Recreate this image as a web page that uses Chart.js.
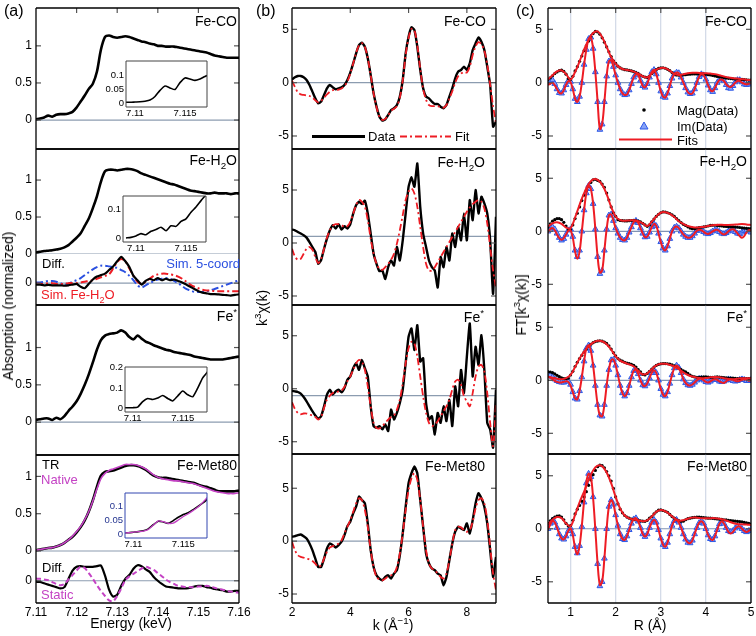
<!DOCTYPE html>
<html>
<head>
<meta charset="utf-8">
<script src="https://cdn.jsdelivr.net/npm/chart.js@4.4.0/dist/chart.umd.min.js"></script>
<style>
body { margin: 0; background: #fff; }
#fig { position: relative; width: 756px; height: 636px; overflow: hidden; font-family: 'Liberation Sans', Arial, sans-serif; color: #000; }
#fig canvas { position: absolute; }
.t { position: absolute; white-space: nowrap; font-size: 13px; line-height: 1; z-index: 5; }
.n { font-size: 14px; }
.c { transform: translate(-50%, -50%); font-size: 14px; }
.v { transform: translate(-50%, -50%) rotate(-90deg); font-size: 14px; }
.t sub, .t sup { font-size: 70%; line-height: 0; }
svg { position: absolute; left: 0; top: 0; z-index: 5; }
</style>
</head>
<body>
<div id="fig">
  <div class="t" style="left:4px;top:3px;font-size:16px">(a)</div>
  <div class="t" style="left:256px;top:3px;font-size:16px">(b)</div>
  <div class="t" style="left:516px;top:3px;font-size:16px">(c)</div>

  <div class="t n" style="right:519px;top:14px">Fe-CO</div>
  <div class="t n" style="right:270px;top:14px">Fe-CO</div>
  <div class="t n" style="right:9px;top:14px">Fe-CO</div>
  <div class="t n" style="right:519px;top:153px">Fe-H<sub>2</sub>O</div>
  <div class="t n" style="right:271px;top:155px">Fe-H<sub>2</sub>O</div>
  <div class="t n" style="right:9px;top:154px">Fe-H<sub>2</sub>O</div>
  <div class="t n" style="right:519px;top:309px">Fe<sup>*</sup></div>
  <div class="t n" style="right:272px;top:310px">Fe<sup>*</sup></div>
  <div class="t n" style="right:9px;top:310px">Fe<sup>*</sup></div>
  <div class="t n" style="right:519px;top:458px">Fe-Met80</div>
  <div class="t n" style="right:271px;top:459px">Fe-Met80</div>
  <div class="t n" style="right:9px;top:459px">Fe-Met80</div>

  <div class="t" style="left:42px;top:257px">Diff.</div>
  <div class="t" style="right:516px;top:257px;color:#2b50e0">Sim. 5-coord</div>
  <div class="t" style="left:41px;top:288px;color:#ee1c24">Sim. Fe-H<sub>2</sub>O</div>
  <div class="t" style="left:42px;top:458px">TR</div>
  <div class="t" style="left:41px;top:473px;color:#c442c4">Native</div>
  <div class="t" style="left:42px;top:561px">Diff.</div>
  <div class="t" style="left:41px;top:588px;color:#c442c4">Static</div>

  <div class="t" style="left:368px;top:130px">Data</div>
  <div class="t" style="left:455px;top:130px">Fit</div>
  <div class="t" style="left:677px;top:104px">Mag(Data)</div>
  <div class="t" style="left:677px;top:120px">Im(Data)</div>
  <div class="t" style="left:677px;top:134px">Fits</div>

  <div class="t v" style="left:8px;top:306px">Absorption (normalized)</div>
  <div class="t v" style="left:262px;top:308px">k<sup>3</sup>χ(k)</div>
  <div class="t v" style="left:521px;top:305px">FT[k<sup>3</sup>χ(k)]</div>
  <div class="t c" style="left:131px;top:623px">Energy (keV)</div>
  <div class="t c" style="left:393px;top:625px">k (Å<sup>−1</sup>)</div>
  <div class="t c" style="left:650px;top:625px">R (Å)</div>

  <svg width="756" height="636">
    <line x1="312" y1="136.5" x2="365" y2="136.5" stroke="#000" stroke-width="3"/>
    <line x1="400" y1="136.5" x2="451" y2="136.5" stroke="#ee1c24" stroke-width="2" stroke-dasharray="7,3,2,3"/>
    <circle cx="644" cy="110" r="1.8" fill="#000"/>
    <polygon points="644,122 648,129 640,129" fill="#86a2f7" stroke="#2d58e6" stroke-width="1"/>
    <line x1="619" y1="139.5" x2="672" y2="139.5" stroke="#ee1c24" stroke-width="2"/>
  </svg>
</div>
<script>
// ---------- grids & ticks ----------
const energy = Array.from({ length: 51 }, (_, i) => +(7.11 + i * 0.001).toFixed(3));
const insetEnergy = Array.from({ length: 18 }, (_, i) => +(7.109 + i * 0.0005).toFixed(4));
const kGrid = Array.from({ length: 71 }, (_, i) => +(2 + i * 0.1).toFixed(1));
const rGrid = Array.from({ length: 91 }, (_, i) => +(0.5 + i * 0.05).toFixed(2));
const rFitGrid = Array.from({ length: 46 }, (_, i) => +(0.5 + i * 0.1).toFixed(1));

const eTicks = [7.11, 7.12, 7.13, 7.14, 7.15, 7.16];
const insetTicks = [7.11, 7.115];
const kTicks = [2, 4, 6, 8];
const rTicks = [1, 2, 3, 4, 5];
const absTicks = [0, 0.5, 1];
const chiTicks = [-5, 0, 5];

// ---------- (a) XANES ----------
const muCO = [0.01,0.02,0.035,0.06,0.045,0.07,0.08,0.08,0.09,0.11,
  0.17,0.25,0.33,0.42,0.49,0.65,0.95,1.12,1.14,1.12,
  1.11,1.12,1.13,1.12,1.1,1.08,1.06,1.05,1.03,1.02,
  1.0,1.0,0.99,0.99,0.99,0.98,0.97,0.96,0.95,0.94,
  0.93,0.92,0.91,0.89,0.87,0.86,0.85,0.84,0.84,0.84,0.84];
const muH2O = [0.02,0.03,0.04,0.045,0.05,0.06,0.07,0.09,0.12,0.17,
  0.22,0.28,0.38,0.48,0.62,0.78,0.98,1.12,1.14,1.14,
  1.13,1.14,1.15,1.15,1.14,1.12,1.09,1.07,1.05,1.03,
  1.01,0.99,0.97,0.95,0.94,0.92,0.9,0.88,0.86,0.85,
  0.84,0.83,0.82,0.82,0.83,0.82,0.82,0.82,0.81,0.82,0.82];
const diffH2O = [-0.02,-0.02,-0.03,-0.025,-0.03,-0.03,-0.03,-0.035,-0.03,-0.02,
  -0.01,-0.05,-0.07,-0.01,0.05,0.09,0.11,0.13,0.18,0.23,
  0.3,0.36,0.3,0.22,0.1,0.04,-0.02,0.03,0.06,0.04,
  0.07,0.04,0.06,0.04,0.05,0.03,0.01,-0.02,-0.05,-0.08,
  -0.11,-0.13,-0.14,-0.15,-0.15,-0.155,-0.16,-0.165,-0.17,-0.16,-0.155];
const simFeH2O = [-0.01,-0.01,-0.01,0.0,0.0,-0.01,-0.01,-0.01,0.0,0.0,
  0.0,0.01,0.02,0.03,0.04,0.06,0.08,0.1,0.12,0.2,
  0.29,0.33,0.3,0.2,0.1,0.02,-0.01,0.02,0.06,0.1,
  0.12,0.13,0.13,0.12,0.11,0.09,0.06,0.02,-0.02,-0.05,
  -0.07,-0.09,-0.1,-0.1,-0.11,-0.11,-0.11,-0.11,-0.11,-0.11,-0.11];
const sim5coord = [0.01,0.01,0.02,0.03,0.03,0.02,0.0,-0.02,-0.01,0.02,
  0.04,0.07,0.11,0.15,0.19,0.22,0.24,0.24,0.23,0.22,
  0.21,0.18,0.15,0.1,0.04,-0.03,-0.06,-0.03,0.0,0.03,
  0.05,0.06,0.07,0.06,0.03,0.0,-0.04,-0.08,-0.1,-0.12,
  -0.12,-0.12,-0.11,-0.1,-0.08,-0.06,-0.04,-0.02,0.0,0.02,0.04];
const muStar = [0.03,0.04,0.05,0.05,0.03,0.06,0.04,0.08,0.15,0.21,
  0.28,0.38,0.5,0.64,0.8,0.97,1.1,1.16,1.18,1.19,
  1.2,1.23,1.2,1.14,1.11,1.16,1.12,1.08,1.06,1.03,
  1.01,0.99,0.97,0.96,0.94,0.93,0.92,0.91,0.9,0.88,
  0.87,0.86,0.85,0.84,0.84,0.84,0.84,0.85,0.86,0.87,0.88];
const muMet = [0.01,0.02,0.03,0.04,0.045,0.06,0.08,0.11,0.15,0.19,
  0.25,0.32,0.41,0.53,0.68,0.86,1.01,1.06,1.07,1.08,
  1.1,1.12,1.14,1.15,1.15,1.14,1.12,1.09,1.05,1.01,
  0.99,0.98,0.98,0.97,0.96,0.95,0.94,0.93,0.92,0.91,
  0.89,0.87,0.86,0.84,0.82,0.8,0.8,0.8,0.8,0.8,0.81];
const muNative = [0.01,0.02,0.03,0.04,0.045,0.06,0.08,0.11,0.15,0.2,
  0.26,0.33,0.42,0.53,0.67,0.83,0.97,1.04,1.08,1.1,
  1.12,1.14,1.16,1.16,1.16,1.15,1.13,1.1,1.06,1.02,
  0.99,0.97,0.96,0.95,0.94,0.94,0.93,0.92,0.91,0.9,
  0.88,0.86,0.84,0.82,0.8,0.79,0.78,0.77,0.77,0.77,0.78];
const diffMet = [-0.015,-0.02,-0.04,-0.06,-0.08,-0.1,-0.12,-0.1,0.03,0.16,
  0.22,0.23,0.22,0.22,0.22,0.23,0.24,0.08,-0.14,-0.25,
  -0.22,-0.08,0.03,0.09,0.19,0.245,0.23,0.18,0.14,0.06,
  0.0,-0.05,-0.09,-0.1,-0.11,-0.12,-0.12,-0.12,-0.11,-0.09,
  -0.08,-0.08,-0.1,-0.11,-0.13,-0.14,-0.15,-0.17,-0.17,-0.16,-0.16];
const diffStatic = [0.035,0.03,0.02,0.01,-0.02,-0.05,-0.07,-0.05,0.02,0.09,
  0.16,0.22,0.2,0.12,0.03,-0.07,-0.16,-0.24,-0.31,-0.32,
  -0.24,-0.12,0.01,0.07,0.11,0.15,0.19,0.22,0.2,0.17,
  0.12,0.07,0.02,-0.02,-0.05,-0.08,-0.09,-0.1,-0.1,-0.1,
  -0.09,-0.09,-0.08,-0.09,-0.11,-0.13,-0.14,-0.16,-0.17,-0.18,-0.19];

// insets (pre-edge)
const preCO = [0.004,0.004,0.005,0.006,0.008,0.012,0.025,0.047,0.063,0.056,0.05,0.075,0.092,0.088,0.083,0.088,0.097,0.104];
const preH2O = [0.001,0.003,0.008,0.016,0.012,0.024,0.03,0.038,0.026,0.043,0.041,0.058,0.067,0.09,0.108,0.13,0.15,0.17];
const preStar = [0.005,0.005,0.005,0.008,0.035,0.05,0.045,0.052,0.064,0.05,0.038,0.062,0.086,0.068,0.058,0.1,0.15,0.18];
const preMet = [0.006,0.006,0.008,0.01,0.013,0.02,0.035,0.048,0.045,0.04,0.05,0.062,0.072,0.079,0.09,0.102,0.115,0.13];
const preNative = [0.006,0.006,0.008,0.01,0.012,0.018,0.033,0.049,0.046,0.04,0.041,0.052,0.065,0.075,0.087,0.1,0.118,0.138];

// ---------- (b) k^3 chi(k) ----------
const chiCO = [0.3,0.5,0.62,0.62,0.5,0.25,-0.22,-0.84,-1.47,-1.94,-1.78,-1.16,-0.53,-0.22,-0.44,-0.62,-0.53,-0.44,-0.22,0.25,
  0.94,1.81,2.75,3.53,3.75,3.37,2.28,0.72,-1.0,-2.25,
  -3.19,-3.56,-3.44,-3.03,-2.56,-2.4,-2.1,-1.31,0.25,2.75,
  4.31,5.19,4.94,3.37,1.19,-0.53,-1.31,-1.47,-1.78,-2.0,
  -2.0,-2.25,-2.4,-2.1,-1.31,-0.53,0.41,1.03,1.19,1.5,
  1.19,1.81,3.06,3.69,4.25,3.84,3.06,1.5,-0.22,-4.12,-3.66];
const fitCO = [0.2,-0.4,-0.9,-1.1,-1.15,-1.2,-1.25,-1.4,-1.65,-1.85,-1.7,-1.4,-1.1,-0.85,-0.7,-0.7,-0.65,-0.55,-0.3,0.1,
  0.85,1.8,2.8,3.5,3.7,3.35,2.3,0.7,-1.0,-2.3,
  -3.2,-3.5,-3.4,-3.05,-2.65,-2.45,-2.2,-1.4,0.2,2.6,
  4.2,5.05,4.9,3.5,1.3,-0.6,-1.6,-2.1,-2.2,-2.2,
  -2.2,-2.3,-2.35,-2.1,-1.5,-0.8,0.0,0.6,0.85,1.0,
  0.95,1.5,2.6,3.4,3.8,3.6,3.0,1.7,-0.2,-2.2,-3.8];
const chiH2O = [1.27,1.2,1.04,0.89,0.73,0.51,0.09,-0.38,-0.85,-1.95,-1.6,-0.54,0.41,1.2,1.68,1.36,1.77,1.27,1.58,1.36,
  1.77,2.78,3.57,3.89,3.67,3.99,2.78,0.89,-1.01,-1.96,
  -2.66,-2.59,-3.39,-2.28,-1.65,-2.12,-0.38,-1.65,0.25,2.78,
  5.3,6.2,5.3,7.5,3.4,0.89,-0.38,-1.65,-2.28,-2.6,
  -4.2,-1.33,-2.28,-0.38,-1.65,0.89,-0.38,1.52,0.25,2.78,
  0.25,4.05,2.15,5.0,2.78,4.37,3.73,2.78,0.25,-4.8,2.47];
const fitH2O = [-0.54,-1.27,-1.58,-1.49,-1.01,-0.54,-0.38,-0.63,-1.33,-1.9,-1.49,-0.54,0.51,1.2,1.65,1.77,1.77,1.68,1.52,1.58,
  1.99,2.78,3.57,4.05,3.89,3.42,2.15,0.41,-1.01,-1.96,
  -2.44,-2.53,-2.28,-1.96,-1.58,-1.01,-0.06,1.2,2.63,4.05,
  4.84,5.16,4.68,3.42,1.52,-0.38,-1.96,-2.59,-2.59,-2.28,
  -1.8,-1.33,-0.85,-0.38,0.09,0.57,1.04,1.52,1.99,2.47,
  2.94,3.35,3.67,3.89,4.05,3.89,3.26,1.84,-0.38,-2.59,-4.18];
const chiStar = [-0.19,-0.25,-0.31,-0.47,-0.78,-1.19,-1.66,-2.12,-2.53,-2.84,-2.59,-1.66,-0.56,-0.09,-0.56,-0.25,-0.09,-0.34,0.06,0.84,
  1.16,1.94,2.41,1.78,2.72,1.94,1.16,-1.66,-3.53,-3.69,
  -3.53,-3.84,-3.37,-4.0,-1.97,-2.9,-2.28,-1.34,-0.09,2.41,
  4.9,5.69,3.66,6.0,2.56,2.88,-1.34,-2.9,-2.59,-4.31,
  -2.28,-3.22,-1.66,-3.06,-1.03,-3.53,0.22,-1.66,1.78,-0.41,
  3.03,6.16,1.16,3.97,2.25,5.06,1.78,-3.22,-3.84,-5.56,-0.09];
const fitStar = [-1.28,-1.91,-2.28,-2.41,-2.34,-2.34,-2.44,-2.53,-2.66,-2.91,-2.66,-1.81,-1.03,-0.66,-0.41,-0.34,-0.25,-0.16,0.16,0.69,
  1.16,1.78,2.41,2.72,2.56,1.78,0.22,-1.66,-3.22,-3.69,
  -3.75,-3.53,-3.22,-2.91,-2.66,-2.53,-1.97,-1.03,0.53,2.41,
  3.81,4.44,4.28,3.03,1.16,-0.72,-2.28,-3.22,-3.53,-3.37,
  -3.06,-2.59,-2.12,-1.66,-1.03,-0.09,0.69,0.84,0.38,-0.72,
  -1.19,-1.66,-0.41,1.16,2.09,2.25,1.63,-0.41,-3.22,-5.41,-1.34];
const chiMet = [0.41,0.47,0.57,0.63,0.47,0.25,-0.22,-0.85,-1.65,-2.44,-2.44,-1.65,-0.7,-0.22,-0.38,-0.6,-0.38,-0.06,0.57,1.42,
  1.84,2.63,3.26,4.21,3.89,3.58,1.68,-0.85,-2.44,-3.23,
  -3.54,-3.7,-3.39,-3.23,-3.54,-3.07,-2.75,-1.33,0.73,3.26,
  5.47,6.42,7.06,6.42,3.89,1.36,-1.17,-2.12,-2.59,-2.75,
  -3.07,-3.23,-4.18,-3.39,-1.8,-0.22,0.89,1.36,1.2,1.04,
  1.68,0.73,1.99,3.58,4.53,4.05,3.26,1.68,-0.85,-3.39,-1.49];
const fitMet = [-0.06,-0.85,-1.33,-1.49,-1.55,-1.65,-1.74,-1.87,-2.12,-2.44,-2.28,-1.65,-1.01,-0.6,-0.47,-0.38,-0.22,0.09,0.73,1.36,
  1.99,2.78,3.58,4.05,3.89,2.94,1.36,-0.85,-2.44,-3.39,
  -3.64,-3.7,-3.54,-3.32,-3.23,-3.07,-2.44,-1.17,0.73,2.94,
  4.84,5.95,6.42,5.79,3.89,1.36,-0.85,-2.12,-2.59,-2.75,
  -3.07,-3.39,-3.54,-3.07,-1.8,-0.22,1.04,1.36,1.3,1.04,
  0.89,1.04,1.84,3.1,3.89,4.05,3.58,1.99,-0.54,-3.07,-4.65];
const chiBase = [0, 0.63, -0.66, 0];

// ---------- (c) FT magnitude / imaginary ----------
const magCO = [0.3,0.45,0.65,0.85,1.0,1.12,1.17,1.05,0.8,0.4,
  0.3,0.6,1.1,1.5,2.0,2.5,3.0,3.45,3.9,4.3,
  4.6,4.8,4.75,4.55,4.2,3.8,3.35,2.9,2.45,2.05,
  1.8,1.55,1.38,1.28,1.22,1.19,1.15,1.1,1.03,0.95,
  0.85,0.72,0.6,0.52,0.5,0.6,0.85,1.05,1.22,1.33,
  1.38,1.4,1.35,1.25,1.12,0.95,0.8,0.72,0.7,0.71,
  0.72,0.75,0.78,0.8,0.81,0.81,0.81,0.81,0.81,0.8,
  0.78,0.75,0.72,0.68,0.63,0.58,0.55,0.5,0.46,0.43,
  0.41,0.38,0.36,0.34,0.32,0.31,0.3,0.28,0.26,0.25,0.25];
const imCO = [0.0,0.2,0.25,-0.1,-0.6,-0.95,-1.0,-0.7,-0.2,0.2,
  0.1,-0.6,-1.5,-1.8,-1.3,0.0,1.7,3.1,4.1,4.25,
  3.2,1.0,-1.8,-4.4,-3.9,-1.8,0.6,2.0,2.1,1.5,
  0.7,0.0,-0.6,-1.0,-1.15,-1.1,-0.7,-0.1,0.5,0.8,
  0.7,0.2,-0.3,-0.45,-0.1,0.5,1.0,1.2,0.8,0.0,
  -0.8,-1.3,-1.4,-1.0,-0.3,0.4,0.8,0.95,0.9,0.5,
  0.0,-0.5,-0.9,-1.05,-1.0,-0.6,0.0,0.55,0.8,0.7,
  0.3,-0.25,-0.7,-0.85,-0.5,0.0,0.3,0.4,0.2,-0.2,
  -0.5,-0.55,-0.3,0.05,0.25,0.25,0.05,-0.15,-0.2,-0.15,0.0];
const magFitCO = [0.3,0.7,1.05,1.15,0.8,0.3,1.0,2.0,3.1,4.0,
  4.65,4.8,4.25,3.35,2.4,1.75,1.38,1.22,1.15,1.03,
  0.85,0.6,0.5,0.85,1.22,1.38,1.35,1.12,0.82,0.72,
  0.78,0.88,0.92,0.92,0.9,0.88,0.85,0.8,0.7,0.58,
  0.48,0.42,0.38,0.33,0.28,0.22];
const imFitCO = [-0.2,-0.1,0.0,-0.25,-0.6,-0.95,-1.0,-0.7,-0.2,0.15,
  0.05,-0.6,-1.5,-1.8,-1.3,0.0,1.7,3.1,4.1,4.25,
  3.2,1.0,-1.8,-4.35,-3.9,-1.8,0.6,2.0,2.1,1.5,
  0.7,0.0,-0.6,-1.0,-1.15,-1.1,-0.7,-0.1,0.5,0.8,
  0.7,0.2,-0.3,-0.45,-0.1,0.5,1.0,1.2,0.8,0.0,
  -0.8,-1.3,-1.4,-1.0,-0.3,0.4,0.8,0.95,0.9,0.5,
  0.0,-0.5,-0.9,-1.05,-1.0,-0.6,0.0,0.55,0.8,0.7,
  0.3,-0.25,-0.7,-0.8,-0.5,-0.05,0.25,0.3,0.15,-0.15,
  -0.35,-0.4,-0.25,0.0,0.15,0.15,0.0,-0.1,-0.15,-0.1,0.0];

const magH2O = [0.4,0.7,0.95,1.1,1.2,1.2,1.1,0.85,0.5,0.15,
  0.15,0.6,1.2,1.7,2.3,2.9,3.4,3.85,4.25,4.6,
  4.85,4.9,4.8,4.7,4.45,4.15,3.6,2.95,2.3,1.75,
  1.4,1.1,1.02,1.0,0.98,0.98,1.0,1.02,1.04,1.0,
  0.95,0.88,0.75,0.6,0.47,0.6,0.9,1.15,1.4,1.6,
  1.75,1.83,1.82,1.75,1.68,1.55,1.4,1.2,1.0,0.82,
  0.66,0.55,0.42,0.3,0.25,0.25,0.3,0.35,0.38,0.41,
  0.45,0.5,0.55,0.57,0.57,0.55,0.52,0.5,0.47,0.45,
  0.43,0.42,0.41,0.4,0.38,0.36,0.33,0.3,0.28,0.26,0.25];
const imH2O = [0.0,0.3,0.4,0.2,-0.2,-0.6,-0.85,-0.7,-0.3,0.1,
  0.2,-0.5,-1.8,-2.4,-1.8,0.0,2.0,3.6,4.3,4.0,
  2.6,0.2,-2.4,-4.0,-3.7,-1.8,0.2,1.5,1.6,1.0,
  0.3,-0.2,-0.6,-0.8,-0.85,-0.6,-0.1,0.4,0.85,1.0,
  0.8,0.3,-0.2,-0.55,-0.5,-0.1,0.4,0.7,0.5,-0.2,
  -1.0,-1.6,-1.8,-1.4,-0.7,0.0,0.35,0.45,0.3,0.0,
  -0.3,-0.5,-0.6,-0.6,-0.45,-0.2,0.05,0.15,0.1,-0.05,
  -0.2,-0.25,-0.15,0.0,0.1,0.1,-0.05,-0.2,-0.25,-0.15,
  0.0,0.1,0.1,-0.05,-0.2,-0.25,-0.1,0.05,0.1,0.0,-0.1];
const magFitH2O = [0.45,0.75,0.85,0.7,0.35,0.3,1.3,2.5,3.6,4.45,
  4.9,4.85,4.4,3.5,2.3,1.4,1.05,1.0,1.02,1.04,
  0.95,0.75,0.5,0.9,1.4,1.75,1.8,1.65,1.35,0.95,
  0.7,0.5,0.4,0.35,0.4,0.45,0.55,0.6,0.62,0.6,
  0.6,0.62,0.65,0.68,0.65,0.6];
const imFitH2O = [-0.1,0.2,0.3,0.1,-0.3,-0.65,-0.8,-0.65,-0.3,0.05,
  0.1,-0.6,-1.9,-2.6,-1.9,0.0,2.0,3.6,4.3,4.0,
  2.6,0.2,-2.4,-3.9,-3.7,-1.8,0.2,1.5,1.6,1.0,
  0.3,-0.2,-0.6,-0.8,-0.85,-0.6,-0.1,0.4,0.85,1.0,
  0.8,0.3,-0.2,-0.55,-0.5,-0.1,0.4,0.7,0.5,-0.2,
  -1.0,-1.6,-1.8,-1.4,-0.7,0.0,0.35,0.45,0.3,0.0,
  -0.3,-0.5,-0.6,-0.6,-0.45,-0.2,0.05,0.15,0.1,-0.05,
  -0.2,-0.25,-0.15,0.0,0.1,0.15,0.0,-0.2,-0.3,-0.2,
  0.0,0.15,0.2,0.05,-0.2,-0.45,-0.6,-0.45,-0.1,0.1,0.1];

const magStar = [0.8,0.78,0.72,0.6,0.47,0.35,0.22,0.16,0.16,0.2,
  0.5,0.85,1.3,1.7,2.05,2.35,2.65,2.95,3.2,3.4,
  3.55,3.65,3.7,3.73,3.7,3.6,3.48,3.25,2.95,2.6,
  2.3,2.05,1.9,1.8,1.7,1.62,1.57,1.5,1.42,1.25,
  1.0,0.8,0.55,0.5,0.65,0.85,1.05,1.25,1.4,1.5,
  1.55,1.58,1.58,1.56,1.52,1.45,1.37,1.28,1.15,1.0,
  0.9,0.79,0.65,0.5,0.38,0.32,0.28,0.28,0.3,0.32,
  0.32,0.3,0.28,0.28,0.3,0.32,0.3,0.28,0.25,0.22,
  0.2,0.2,0.2,0.18,0.15,0.15,0.15,0.15,0.15,0.15,0.15];
const imStar = [0.6,0.5,0.3,0.1,-0.05,-0.15,-0.2,-0.2,-0.1,-0.1,
  -0.4,-1.1,-1.7,-1.8,-1.0,0.3,1.8,3.0,3.3,2.8,
  1.4,-0.5,-2.3,-3.3,-3.4,-2.3,-0.5,1.0,1.9,1.95,
  1.4,0.5,-0.5,-1.2,-1.5,-1.2,-0.5,0.3,0.9,1.0,
  0.6,0.0,-0.45,-0.55,-0.3,0.2,0.7,0.95,0.7,0.0,
  -0.8,-1.35,-1.5,-1.1,-0.3,0.5,1.15,1.4,1.2,0.7,
  0.1,-0.25,-0.45,-0.5,-0.4,-0.2,0.0,0.15,0.15,0.0,
  -0.15,-0.2,-0.1,0.05,0.1,0.05,-0.1,-0.15,-0.1,0.0,
  0.1,0.05,-0.05,-0.1,-0.05,0.05,0.1,0.05,-0.05,-0.05,0.05];
const magFitStar = [0.35,0.25,0.15,0.1,0.2,0.5,1.25,2.05,2.7,3.2,
  3.55,3.72,3.68,3.4,2.9,2.25,1.85,1.65,1.5,1.3,
  0.9,0.55,0.65,1.05,1.4,1.55,1.55,1.45,1.3,1.05,
  0.75,0.5,0.35,0.25,0.2,0.22,0.28,0.3,0.28,0.2,
  0.12,0.1,0.15,0.2,0.2,0.2];
const imFitStar = [0.3,0.25,0.1,-0.05,-0.15,-0.2,-0.2,-0.15,-0.1,-0.15,
  -0.5,-1.1,-1.7,-1.8,-1.0,0.3,1.8,3.0,3.3,2.8,
  1.4,-0.5,-2.3,-3.3,-3.4,-2.3,-0.5,1.0,1.9,1.95,
  1.4,0.5,-0.5,-1.2,-1.5,-1.2,-0.5,0.3,0.9,1.0,
  0.6,0.0,-0.45,-0.55,-0.3,0.2,0.7,0.95,0.7,0.0,
  -0.8,-1.35,-1.5,-1.1,-0.3,0.5,1.15,1.4,1.2,0.7,
  0.1,-0.25,-0.45,-0.5,-0.4,-0.2,0.0,0.15,0.15,0.0,
  -0.15,-0.2,-0.1,0.05,0.1,0.05,-0.1,-0.2,-0.25,-0.1,
  0.05,0.1,0.05,-0.05,-0.1,-0.05,0.05,0.1,0.05,-0.05,0.0];

const magMet = [0.5,0.75,0.95,1.1,1.2,1.22,1.1,0.85,0.5,0.25,
  0.3,0.8,1.4,1.85,2.2,2.6,3.0,3.5,4.1,4.6,
  5.1,5.5,5.85,6.0,5.95,5.75,5.4,5.0,4.5,3.8,
  3.0,2.35,1.85,1.5,1.25,1.1,1.0,0.92,0.88,0.85,
  0.8,0.75,0.72,0.7,0.8,1.0,1.15,1.4,1.6,1.75,
  1.78,1.72,1.65,1.55,1.35,1.15,1.0,0.85,0.75,0.7,
  0.72,0.85,0.95,1.0,1.05,1.08,1.1,1.1,1.08,1.05,
  1.02,1.0,1.0,0.98,0.95,0.93,0.9,0.88,0.85,0.83,
  0.8,0.78,0.75,0.72,0.7,0.68,0.65,0.6,0.55,0.5,0.45];
const imMet = [0.0,0.5,0.8,0.6,0.1,-0.5,-0.9,-1.0,-0.7,-0.2,
  0.05,-0.5,-1.7,-2.3,-1.6,0.2,2.5,4.3,5.2,4.9,
  3.0,0.0,-3.3,-5.4,-5.0,-2.8,0.0,2.1,2.7,2.3,
  1.3,0.3,-0.5,-0.95,-1.05,-0.7,-0.1,0.5,0.9,1.0,
  0.7,0.1,-0.5,-0.75,-0.5,0.1,0.6,0.85,0.6,-0.1,
  -0.9,-1.5,-1.7,-1.3,-0.5,0.3,0.75,0.85,0.6,0.1,
  -0.5,-1.0,-1.3,-1.35,-1.1,-0.5,0.1,0.55,0.7,0.5,
  0.0,-0.6,-0.95,-1.05,-0.7,-0.1,0.45,0.7,0.5,0.1,
  -0.2,-0.3,-0.2,0.05,0.2,0.2,0.0,-0.2,-0.3,-0.2,-0.05];
const magFitMet = [0.4,0.85,1.1,1.0,0.5,0.25,1.3,2.5,3.5,4.6,
  5.5,5.95,5.9,5.3,4.3,3.0,1.9,1.25,0.98,0.88,
  0.8,0.72,0.8,1.15,1.6,1.78,1.65,1.35,1.0,0.78,
  0.8,0.95,1.05,1.05,1.0,0.98,1.0,1.0,0.95,0.85,
  0.7,0.55,0.45,0.42,0.4,0.35];
const imFitMet = [-0.1,0.4,0.75,0.6,0.1,-0.5,-0.9,-1.0,-0.7,-0.2,
  0.05,-0.6,-1.8,-2.4,-1.6,0.3,2.6,4.4,5.2,4.9,
  2.9,-0.1,-3.3,-5.3,-5.0,-2.8,0.0,2.1,2.7,2.3,
  1.3,0.3,-0.5,-0.95,-1.05,-0.7,-0.1,0.5,0.9,1.0,
  0.7,0.1,-0.5,-0.75,-0.5,0.1,0.6,0.85,0.6,-0.1,
  -0.9,-1.5,-1.7,-1.3,-0.5,0.3,0.75,0.85,0.6,0.1,
  -0.5,-1.0,-1.3,-1.35,-1.1,-0.5,0.1,0.55,0.7,0.5,
  0.0,-0.6,-0.95,-1.05,-0.7,-0.1,0.45,0.7,0.5,0.1,
  -0.3,-0.45,-0.3,0.0,0.2,0.2,0.0,-0.2,-0.3,-0.2,0.0];

// ---------- drawing ----------
const FONT = "'Liberation Sans', Arial, sans-serif";
const RED = '#ee1c24', BLUE = '#2b50e0', MAGENTA = '#c442c4';
const ZERO = '#8c9cb0';
const fig = document.getElementById('fig');

const pts = (xs, ys) => ys.map((y, i) => ({ x: xs[i], y }));
const curve = (xs, ys, color, width, extra) => Object.assign({
    data: pts(xs, ys), showLine: true, borderColor: color, borderWidth: width,
    pointRadius: 0, tension: 0.25
}, extra || {});
const baseLine = (x0, x1, y, color) => ({
    data: [{ x: x0, y }, { x: x1, y }], showLine: true, borderColor: color || ZERO, borderWidth: 1.2, pointRadius: 0
});
const dots = (xs, ys) => ({
    data: pts(xs, ys), showLine: false, pointRadius: 1.6, pointBackgroundColor: '#000', pointBorderWidth: 0
});
const triangles = (xs, ys) => ({
    data: pts(xs, ys), showLine: false, pointStyle: 'triangle', pointRadius: 3.3,
    pointBackgroundColor: '#86a2f7', pointBorderColor: '#2d58e6', pointBorderWidth: 1
});

// panel frame + inward tick marks + optional white fill (insets)
const framePlugin = {
    id: 'frame',
    beforeDraw(chart, args, o) {
        if (!o.fill) return;
        const a = chart.chartArea, ctx = chart.ctx;
        ctx.save();
        ctx.fillStyle = o.fill;
        ctx.fillRect(a.left, a.top, a.width, a.height);
        ctx.restore();
    },
    afterDraw(chart, args, o) {
        const a = chart.chartArea, ctx = chart.ctx;
        const skip = o.skip || [];
        ctx.save();
        const seg = (x0, y0, x1, y1) => { ctx.beginPath(); ctx.moveTo(x0, y0); ctx.lineTo(x1, y1); ctx.stroke(); };
        // inward tick marks
        ctx.strokeStyle = '#555';
        ctx.lineWidth = 1.2;
        if (o.yMarks) {
            chart.scales.y.ticks.forEach(t => {
                const py = chart.scales.y.getPixelForValue(t.value);
                if (py <= a.top + 2 || py >= a.bottom - 2) return;
                seg(a.left, py, a.left + 5, py);
                seg(a.right - 5, py, a.right, py);
            });
        }
        (o.ticks || []).forEach(v => {
            const px = chart.scales.x.getPixelForValue(v);
            seg(px, a.top, px, a.top + 5);
        });
        ctx.strokeStyle = o.color || '#000';
        ctx.lineWidth = o.width || 1.3;
        if (!skip.includes('top')) seg(a.left, a.top, a.right, a.top);
        if (!skip.includes('bottom')) seg(a.left, a.bottom, a.right, a.bottom);
        seg(a.left, a.top, a.left, a.bottom);
        seg(a.right, a.top, a.right, a.bottom);
        ctx.restore();
    }
};

function panel(box, cfg) {
    const [x0, y0, x1, y1] = box;
    const padL = cfg.padL, padT = cfg.padT || 10, padR = cfg.padR || 8;
    const showX = !!cfg.xLabels;
    const padB = cfg.padB || (showX ? 22 : 10);
    const w = x1 - x0 + padL + padR, h = y1 - y0 + padT + padB;
    const c = document.createElement('canvas');
    c.width = w; c.height = h;
    Object.assign(c.style, {
        left: (x0 - padL) + 'px', top: (y0 - padT) + 'px',
        width: w + 'px', height: h + 'px', zIndex: cfg.z || 1
    });
    fig.appendChild(c);
    const font = { size: cfg.fontSize || 12, family: FONT };
    const frame = Object.assign({ yMarks: !cfg.z }, cfg.frame || {});
    return new Chart(c, {
        type: 'scatter',
        data: { datasets: cfg.datasets },
        options: {
            responsive: false, animation: false, events: [],
            layout: { padding: { left: 0, top: padT, right: padR, bottom: showX ? 0 : padB } },
            plugins: { legend: { display: false }, tooltip: { enabled: false }, frame },
            scales: {
                x: {
                    type: 'linear', min: cfg.xMin, max: cfg.xMax,
                    afterBuildTicks: s => { s.ticks = cfg.xTicks.map(v => ({ value: v })); },
                    afterFit: s => { s.height = showX ? padB : 0; s.paddingLeft = 0; s.paddingRight = 0; },
                    ticks: { display: showX, font, color: '#000', padding: cfg.xPad || 2, maxRotation: 0, autoSkip: false, callback: v => String(v) },
                    grid: { display: !!cfg.xGrid, color: cfg.xGrid || 'transparent', drawTicks: false, lineWidth: 1.3 },
                    border: { display: false }
                },
                y: {
                    type: 'linear', min: cfg.yMin, max: cfg.yMax,
                    afterBuildTicks: s => { s.ticks = cfg.yTicks.map(v => ({ value: v })); },
                    afterFit: s => { s.width = padL; s.paddingTop = 0; s.paddingBottom = 0; },
                    ticks: { font, color: cfg.yColor || '#000', padding: cfg.yPad || 4, autoSkip: false, callback: v => String(v) },
                    grid: { display: false, drawTicks: false },
                    border: { display: false }
                }
            }
        },
        plugins: [framePlugin]
    });
}

// ----- column (a) -----
const aBase = { padL: 36, xMin: 7.11, xMax: 7.16, xTicks: eTicks, yTicks: absTicks, yPad: 4 };
const black = (ys) => curve(energy, ys, '#000', 2.6, { tension: 0.3 });
const dashDot = [7, 3, 2, 3];

panel([36, 8, 239, 149], Object.assign({}, aBase, {
    yMin: -0.39, yMax: 1.51, padT: 8, frame: { ticks: [7.12, 7.13, 7.14, 7.15] },
    datasets: [black(muCO), baseLine(7.11, 7.16, 0)]
}));
panel([36, 149, 239, 254], Object.assign({}, aBase, {
    yMin: 0, yMax: 1.42, frame: { skip: ['bottom'] },
    datasets: [black(muH2O), baseLine(7.11, 7.16, 0)]
}));
panel([36, 254, 239, 305], Object.assign({}, aBase, {
    yMin: -0.3, yMax: 0.4, yTicks: [0], frame: { skip: ['top'] },
    datasets: [
        curve(energy, diffH2O, '#000', 2.2, { tension: 0.2 }),
        curve(energy, simFeH2O, RED, 2, { borderDash: dashDot, tension: 0.3 }),
        curve(energy, sim5coord, BLUE, 2, { borderDash: dashDot, tension: 0.3 }),
        baseLine(7.11, 7.16, 0)
    ]
}));
panel([36, 305, 239, 455], Object.assign({}, aBase, {
    yMin: -0.44, yMax: 1.57,
    datasets: [black(muStar), baseLine(7.11, 7.16, 0)]
}));
panel([36, 455, 239, 556], Object.assign({}, aBase, {
    yMin: -0.067, yMax: 1.287, frame: { skip: ['bottom'] },
    datasets: [
        curve(energy, muNative, MAGENTA, 1.6, { tension: 0.3 }),
        black(muMet),
        baseLine(7.11, 7.16, 0)
    ]
}));
panel([36, 556, 239, 603], Object.assign({}, aBase, {
    yMin: -0.35, yMax: 0.39, yTicks: [0], xLabels: true, padR: 16, frame: { skip: ['top'] },
    datasets: [
        curve(energy, diffStatic, MAGENTA, 2, { borderDash: [5, 3], tension: 0.3 }),
        curve(energy, diffMet, '#000', 2.2, { tension: 0.2 }),
        baseLine(7.11, 7.16, 0)
    ]
}));

// insets
const inBase = { padL: 24, padR: 12, padB: 13, padT: 8, fontSize: 9.5, xTicks: insetTicks, xLabels: true, yPad: 2, xPad: 1, z: 2 };
const pre = (ys, color, w) => curve(insetEnergy, ys, color || '#000', w || 1.6, { tension: 0.2 });
panel([126, 61, 207, 107], Object.assign({}, inBase, {
    xMin: 7.1091, xMax: 7.1172, yMin: -0.013, yMax: 0.153, yTicks: [0, 0.05, 0.1],
    frame: { fill: '#fff', color: '#444', width: 1 }, datasets: [pre(preCO)]
}));
panel([123, 196, 206, 242], Object.assign({}, inBase, {
    xMin: 7.1087, xMax: 7.117, yMin: -0.013, yMax: 0.146, yTicks: [0, 0.1],
    frame: { fill: '#fff', color: '#444', width: 1 }, datasets: [pre(preH2O)]
}));
panel([125, 367, 207, 412], Object.assign({}, inBase, {
    xMin: 7.10923, xMax: 7.11743, yMin: -0.016, yMax: 0.203, yTicks: [0, 0.1, 0.2],
    frame: { fill: '#fff', color: '#444', width: 1 }, datasets: [pre(preStar)]
}));
panel([125, 493, 207, 538], Object.assign({}, inBase, {
    xMin: 7.10917, xMax: 7.11737, yMin: -0.013, yMax: 0.15, yTicks: [0, 0.05, 0.1], yColor: '#23338f',
    frame: { fill: '#fff', color: '#3347b0', width: 1 },
    datasets: [pre(preNative, MAGENTA, 1.3), pre(preMet)]
}));

// ----- column (b) -----
const bBase = { padL: 40, xMin: 2, xMax: 9, xTicks: kTicks, yTicks: chiTicks, yPad: 3 };
const chiPair = (data, fit, lvl) => [
    curve(kGrid, fit, RED, 1.8, { borderDash: dashDot, tension: 0.3 }),
    curve(kGrid, data, '#000', 2.4, { tension: 0.15 }),
    baseLine(2, 9, lvl)
];
panel([292, 8, 496, 149], Object.assign({}, bBase, { yMin: -6.22, yMax: 7.0, padT: 8, frame: { ticks: [4, 6, 8] }, datasets: chiPair(chiCO, fitCO, chiBase[0]) }));
panel([292, 149, 496, 305], Object.assign({}, bBase, { yMin: -5.85, yMax: 8.87, datasets: chiPair(chiH2O, fitH2O, chiBase[1]) }));
panel([292, 305, 496, 454], Object.assign({}, bBase, { yMin: -6.16, yMax: 7.9, datasets: chiPair(chiStar, fitStar, chiBase[2]) }));
panel([292, 454, 496, 603], Object.assign({}, bBase, { yMin: -5.85, yMax: 8.24, xLabels: true, datasets: chiPair(chiMet, fitMet, chiBase[3]) }));

// ----- column (c) -----
const cBase = { padL: 40, xMin: 0.5, xMax: 5, xTicks: rTicks, yTicks: chiTicks, yPad: 6, xGrid: '#d4dbe8' };
const ftSet = (mag, im, magFit, imFit) => [
    curve(rFitGrid, magFit, RED, 2, { tension: 0.4 }),
    curve(rGrid, imFit, RED, 2, { tension: 0.35 }),
    dots(rGrid, mag),
    triangles(rGrid, im),
    baseLine(0.5, 5, 0, '#8093b5')
];
panel([548, 8, 751, 149], Object.assign({}, cBase, { yMin: -6.22, yMax: 7.0, padT: 8, frame: { ticks: [1, 2, 3, 4] }, datasets: ftSet(magCO, imCO, magFitCO, imFitCO) }));
panel([548, 149, 751, 305], Object.assign({}, cBase, { yMin: -6.95, yMax: 7.76, datasets: ftSet(magH2O, imH2O, magFitH2O, imFitH2O) }));
panel([548, 305, 751, 454], Object.assign({}, cBase, { yMin: -6.95, yMax: 7.1, datasets: ftSet(magStar, imStar, magFitStar, imFitStar) }));
panel([548, 454, 751, 603], Object.assign({}, cBase, { yMin: -7.0, yMax: 7.05, xLabels: true, datasets: ftSet(magMet, imMet, magFitMet, imFitMet) }));
</script>
</body>
</html>
